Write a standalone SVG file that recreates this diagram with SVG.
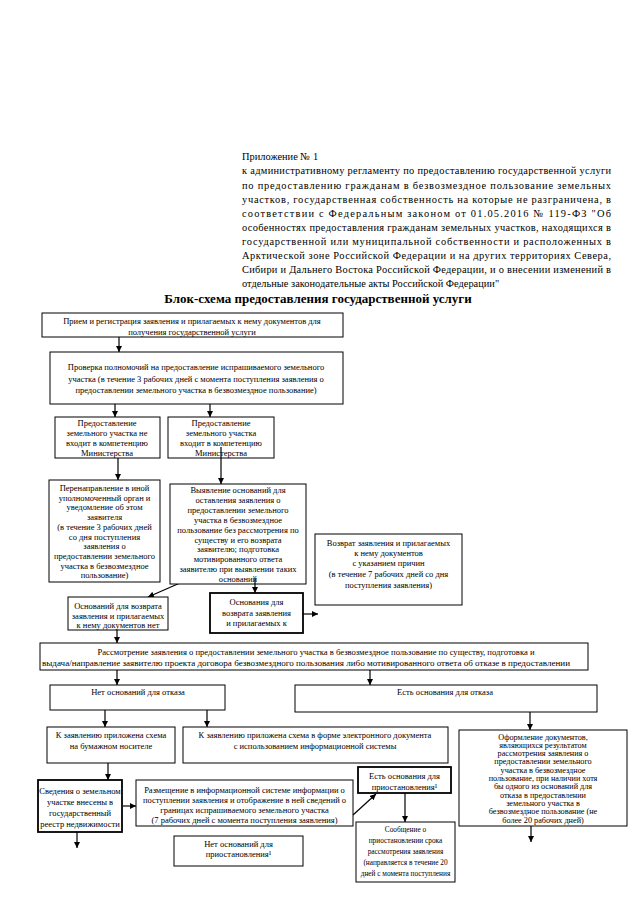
<svg xmlns="http://www.w3.org/2000/svg" width="640" height="905" viewBox="0 0 640 905">
<style>
text{font-family:"Liberation Serif","Times New Roman",serif;fill:#000}
.h{font-size:10.4px}
.ttl{font-size:13px;font-weight:bold;text-anchor:middle}
.t{font-size:8.5px;text-anchor:middle}
.s{font-size:7.3px;text-anchor:middle}
.s8{font-size:8.2px;text-anchor:middle}
.bx{fill:#fff;stroke:#000;stroke-width:1}
.bt{stroke-width:1.8}
.c line{stroke:#000;stroke-width:1.2;marker-end:url(#ah)}
</style>
<defs>
<marker id="ah" viewBox="0 0 10 10" refX="10" refY="5" markerWidth="6" markerHeight="6" markerUnits="userSpaceOnUse" orient="auto"><path d="M0,0L10,5L0,10z" fill="#000"/></marker>
</defs>
<rect width="640" height="905" fill="#fff"/>
<g id="header">
<text class="h" x="242" y="160">Приложение № 1</text>
<text class="h" x="242" y="174" textLength="369" lengthAdjust="spacing">к административному регламенту по предоставлению государственной услуги</text>
<text class="h" x="242" y="188.5" textLength="369" lengthAdjust="spacing">по предоставлению гражданам в безвозмездное пользование земельных</text>
<text class="h" x="242" y="202.5" textLength="369" lengthAdjust="spacing">участков, государственная собственность на которые не разграничена, в</text>
<text class="h" x="242" y="216.5" textLength="369" lengthAdjust="spacing">соответствии с Федеральным законом от 01.05.2016 № 119-ФЗ "Об</text>
<text class="h" x="242" y="230.5" textLength="369" lengthAdjust="spacing">особенностях предоставления гражданам земельных участков, находящихся в</text>
<text class="h" x="242" y="244.5" textLength="369" lengthAdjust="spacing">государственной или муниципальной собственности и расположенных в</text>
<text class="h" x="242" y="259" textLength="369" lengthAdjust="spacing">Арктической зоне Российской Федерации и на других территориях Севера,</text>
<text class="h" x="242" y="273" textLength="369" lengthAdjust="spacing">Сибири и Дальнего Востока Российской Федерации, и о внесении изменений в</text>
<text class="h" x="242" y="287">отдельные законодательные акты Российской Федерации"</text>
</g>
<text class="ttl" x="318" y="303">Блок-схема предоставления государственной услуги</text>
<g class="c" id="connectors">
<line x1="119" y1="337" x2="119" y2="352"/>
<line x1="115" y1="404" x2="115" y2="417"/>
<line x1="210" y1="404" x2="210" y2="417"/>
<line x1="118" y1="458" x2="118" y2="480"/>
<line x1="221" y1="447" x2="221" y2="484"/>
<line x1="180" y1="583" x2="148" y2="597"/>
<line x1="255" y1="578" x2="255" y2="593"/>
<line x1="303" y1="614" x2="318" y2="614"/>
<line x1="117" y1="630" x2="117" y2="643"/>
<line x1="117" y1="670" x2="117" y2="685"/>
<line x1="370" y1="670" x2="370" y2="685"/>
<line x1="105" y1="710" x2="105" y2="727"/>
<line x1="207" y1="710" x2="207" y2="727"/>
<line x1="530" y1="712" x2="530" y2="730"/>
<line x1="108" y1="763" x2="108" y2="780"/>
<line x1="123" y1="806" x2="136" y2="806"/>
<line x1="77" y1="832" x2="77" y2="848"/>
<line x1="353" y1="815" x2="376" y2="794"/>
<line x1="405" y1="793" x2="405" y2="822"/>
<line x1="531" y1="826" x2="531" y2="842"/>
</g>
<g id="n1"><rect class="bx" x="42" y="313" width="301" height="24"/>
<text class="t" x="192" y="324">Прием и регистрация  заявления и прилагаемых к нему документов для</text>
<text class="t" x="192" y="335">получения государственной услуги</text></g>
<g id="n2"><rect class="bx" x="50" y="352" width="293" height="52"/>
<text class="t" x="196" y="370">Проверка полномочий на предоставление испрашиваемого земельного</text>
<text class="t" x="196" y="382">участка (в течение 3 рабочих дней с момента поступления заявления о</text>
<text class="t" x="196" y="393">предоставлении земельного участка в безвозмездное пользование)</text></g>
<g id="n3a"><rect class="bx" x="55" y="417" width="105" height="41"/>
<text class="t" x="107" y="426">Предоставление</text>
<text class="t" x="107" y="436">земельного участка не</text>
<text class="t" x="107" y="446">входит в компетенцию</text>
<text class="t" x="107" y="456">Министерства</text></g>
<g id="n3b"><rect class="bx" x="168" y="417" width="106" height="41"/>
<text class="t" x="221" y="426">Предоставление</text>
<text class="t" x="221" y="436">земельного участка</text>
<text class="t" x="221" y="446">входит в компетенцию</text>
<text class="t" x="221" y="456">Министерства</text></g>
<line x1="221" y1="447" x2="221" y2="458" stroke="#000" stroke-width="1.2"/>
<g id="n4a"><rect class="bx" x="49" y="480" width="111" height="102"/>
<text class="t" x="104.5" y="491">Перенаправление в иной</text>
<text class="t" x="104.5" y="500.7">уполномоченный орган и</text>
<text class="t" x="104.5" y="510.4">уведомление об этом</text>
<text class="t" x="104.5" y="520.1">заявителя</text>
<text class="t" x="104.5" y="529.8">(в течение 3 рабочих дней</text>
<text class="t" x="104.5" y="539.5">со дня поступления</text>
<text class="t" x="104.5" y="549.2">заявления о</text>
<text class="t" x="104.5" y="558.9">предоставлении земельного</text>
<text class="t" x="104.5" y="568.6">участка в безвозмездное</text>
<text class="t" x="104.5" y="578.3">пользование)</text></g>
<g id="n4b"><rect class="bx" x="170" y="484" width="136" height="100"/>
<text class="t" x="238" y="493">Выявление оснований для</text>
<text class="t" x="238" y="502.9">оставления заявления о</text>
<text class="t" x="238" y="512.8">предоставлении земельного</text>
<text class="t" x="238" y="522.7">участка в безвозмездное</text>
<text class="t" x="238" y="532.6">пользование без рассмотрения по</text>
<text class="t" x="238" y="542.5">существу и его возврата</text>
<text class="t" x="238" y="552.4">заявителю; подготовка</text>
<text class="t" x="238" y="562.3">мотивированного ответа</text>
<text class="t" x="238" y="572.2">заявителю при выявлении таких</text>
<text class="t" x="238" y="582.1">оснований</text></g>
<line x1="255" y1="578" x2="255" y2="584" stroke="#000" stroke-width="1.2"/>
<g id="n-vozvrat"><rect class="bx" x="315" y="534" width="147" height="71"/>
<text class="t" x="388.5" y="546">Возврат заявления и прилагаемых</text>
<text class="t" x="388.5" y="556">к нему документов</text>
<text class="t" x="388.5" y="566">с указанием причин</text>
<text class="t" x="388.5" y="577">(в течение 7 рабочих дней со дня</text>
<text class="t" x="388.5" y="588">поступления заявления)</text></g>
<g id="n5a"><rect class="bx" x="68" y="597" width="100" height="33"/>
<text class="t" x="118" y="609">Оснований для возврата</text>
<text class="t" x="118" y="618.5">заявления и прилагаемых</text>
<text class="t" x="118" y="628">к нему документов нет</text></g>
<g id="n5b"><rect class="bx bt" x="210" y="593" width="93" height="40"/>
<text class="t" x="256.5" y="605">Основания для</text>
<text class="t" x="256.5" y="616">возврата заявления</text>
<text class="t" x="256.5" y="626">и прилагаемых к</text></g>
<g id="n6"><rect class="bx" x="40" y="643" width="548" height="27"/>
<text class="t" x="316" y="655" textLength="437" lengthAdjust="spacingAndGlyphs">Рассмотрение заявления о предоставлении земельного участка в безвозмездное пользование по существу, подготовка и</text>
<text class="t" x="306" y="666" textLength="528" lengthAdjust="spacingAndGlyphs">выдача/направление заявителю проекта договора безвозмездного пользования либо мотивированного ответа об отказе в предоставлении</text></g>
<g id="n7a"><rect class="bx" x="50" y="685" width="175" height="25"/>
<text class="t" x="138" y="695">Нет оснований для отказа</text></g>
<g id="n7b"><rect class="bx" x="295" y="685" width="302" height="27"/>
<text class="t" x="445" y="695">Есть основания для отказа</text></g>
<g id="n8a"><rect class="bx" x="47" y="727" width="128" height="36"/>
<text class="t" x="111" y="738">К заявлению приложена схема</text>
<text class="t" x="111" y="749">на бумажном носителе</text></g>
<g id="n8b"><rect class="bx" x="183" y="727" width="265" height="36"/>
<text class="t" x="315" y="738">К заявлению приложена схема в форме электронного документа</text>
<text class="t" x="315" y="749">с использованием информационной системы</text></g>
<g id="n8c"><rect class="bx" x="459" y="730" width="168" height="96"/>
<text class="s8" x="543" y="739.5">Оформление документов,</text>
<text class="s8" x="543" y="747.8">являющихся результатом</text>
<text class="s8" x="543" y="756.1">рассмотрения заявления о</text>
<text class="s8" x="543" y="764.4">предоставлении земельного</text>
<text class="s8" x="543" y="772.7">участка в безвозмездное</text>
<text class="s8" x="543" y="781">пользование, при наличии хотя</text>
<text class="s8" x="543" y="789.3">бы одного из оснований для</text>
<text class="s8" x="543" y="797.6">отказа в предоставлении</text>
<text class="s8" x="543" y="805.9">земельного участка в</text>
<text class="s8" x="543" y="814.2">безвозмездное пользование (не</text>
<text class="s8" x="543" y="822.5">более 20 рабочих дней)</text></g>
<g id="n9a"><rect class="bx bt" x="38" y="780" width="84" height="52"/>
<text class="t" x="80" y="794">Сведения о земельном</text>
<text class="t" x="80" y="805">участке внесены в</text>
<text class="t" x="80" y="816">государственный</text>
<text class="t" x="80" y="827">реестр недвижимости</text></g>
<g id="n9b"><rect class="bx" x="136" y="780" width="217" height="46"/>
<text class="t" x="244.5" y="793">Размещение в информационной системе информации  о</text>
<text class="t" x="244.5" y="803">поступлении заявления и отображение в ней сведений о</text>
<text class="t" x="244.5" y="813">границах испрашиваемого земельного участка</text>
<text class="t" x="244.5" y="823">(7 рабочих дней с момента поступления заявления)</text></g>
<g id="n9c"><rect class="bx" x="174" y="836" width="129" height="30"/>
<text class="t" x="238.5" y="847">Нет оснований для</text>
<text class="t" x="238.5" y="857">приостановления¹</text></g>
<g id="n9d"><rect class="bx bt" x="358" y="767" width="93" height="26"/>
<text class="t" x="404.5" y="779">Есть основания для</text>
<text class="t" x="404.5" y="790">приостановления¹</text></g>
<g id="n9e"><rect class="bx" x="356" y="822" width="99" height="60"/>
<text class="s" x="405.5" y="832">Сообщение о</text>
<text class="s" x="405.5" y="843">приостановлении  срока</text>
<text class="s" x="405.5" y="854">рассмотрения заявления</text>
<text class="s" x="405.5" y="865">(направляется в течение 20</text>
<text class="s" x="405.5" y="876">дней с момента поступления</text></g>
</svg>
